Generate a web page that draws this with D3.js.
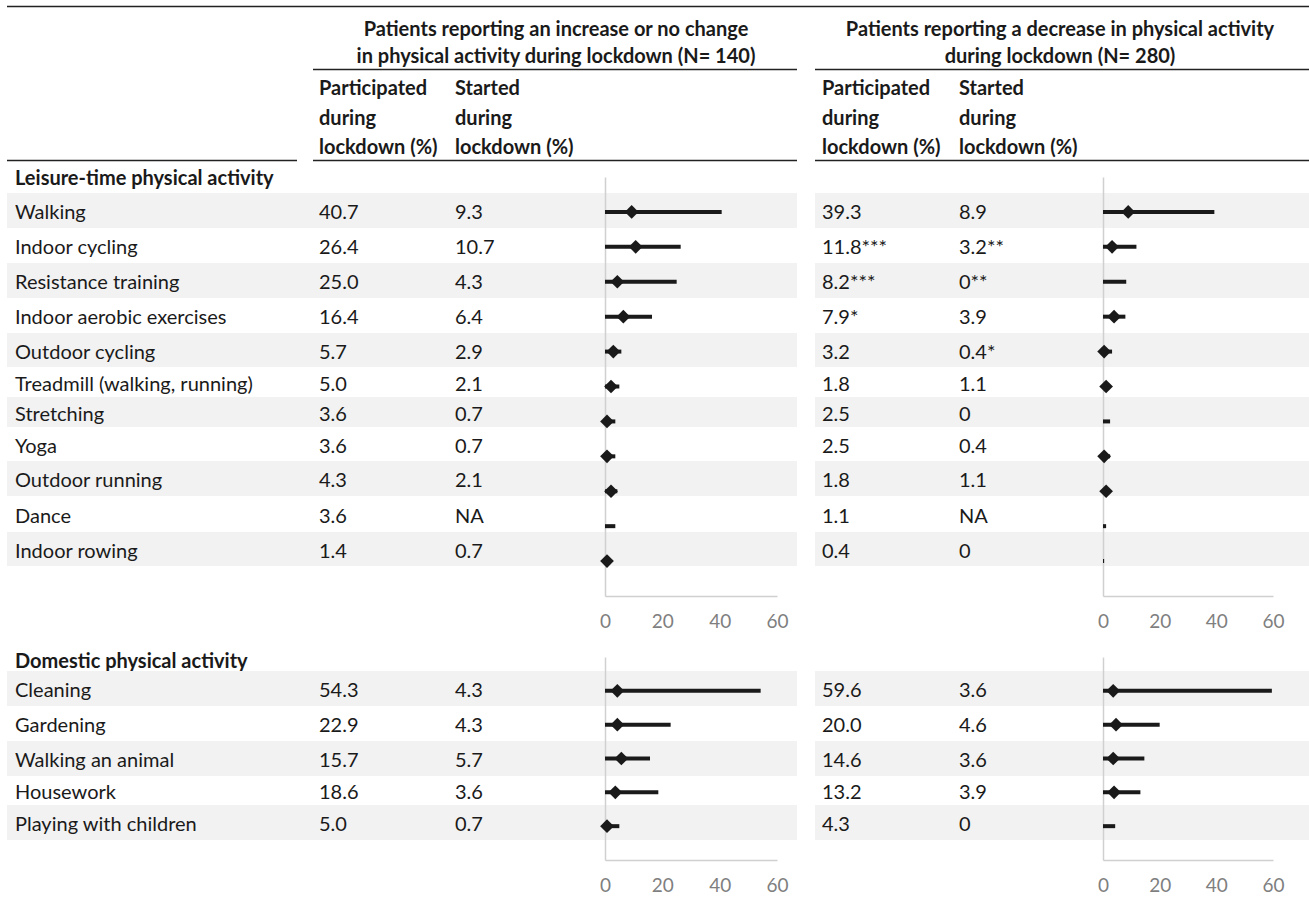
<!DOCTYPE html>
<html>
<head>
<meta charset="utf-8">
<script src="https://cdn.jsdelivr.net/npm/d3@7"></script>
<style>
  html, body { margin: 0; padding: 0; background: #ffffff; }
  svg { display: block; font-family: Lato, "Open Sans", sans-serif; }
</style>
</head>
<body>
<svg id="chart" width="1309" height="908"></svg>
<script>
// ---------------- DATA ----------------
const leisureCategories = ["Walking", "Indoor cycling", "Resistance training", "Indoor aerobic exercises",
  "Outdoor cycling", "Treadmill (walking, running)", "Stretching", "Yoga", "Outdoor running", "Dance", "Indoor rowing"];
// Increase / no change group (N=140)
const leisureIncParticipated = [40.7, 26.4, 25.0, 16.4, 5.7, 5.0, 3.6, 3.6, 4.3, 3.6, 1.4];
const leisureIncStarted      = [9.3, 10.7, 4.3, 6.4, 2.9, 2.1, 0.7, 0.7, 2.1, null, 0.7];
// Decrease group (N=280)
const leisureDecParticipated = [39.3, 11.8, 8.2, 7.9, 3.2, 1.8, 2.5, 2.5, 1.8, 1.1, 0.4];
const leisureDecParticipatedSig = ["", "***", "***", "*", "", "", "", "", "", "", ""];
const leisureDecStarted      = [8.9, 3.2, 0, 3.9, 0.4, 1.1, 0, 0.4, 1.1, null, 0];
const leisureDecStartedSig   = ["", "**", "**", "", "*", "", "", "", "", "", ""];

const domesticCategories = ["Cleaning", "Gardening", "Walking an animal", "Housework", "Playing with children"];
const domesticIncParticipated = [54.3, 22.9, 15.7, 18.6, 5.0];
const domesticIncStarted      = [4.3, 4.3, 5.7, 3.6, 0.7];
const domesticDecParticipated = [59.6, 20.0, 14.6, 13.2, 4.3];
const domesticDecStarted      = [3.6, 4.6, 3.6, 3.9, 0];

const xTicks = [0, 20, 40, 60];

const groupTitles = [
  ["Patients reporting an increase or no change", "in physical activity during lockdown (N= 140)"],
  ["Patients reporting a decrease in physical activity", "during lockdown (N= 280)"]
];
const colHeadParticipated = ["Participated", "during", "lockdown (%)"];
const colHeadStarted = ["Started", "during", "lockdown (%)"];
const sectionTitles = ["Leisure-time physical activity", "Domestic physical activity"];

// ---------------- LAYOUT ----------------
const FS = 20;
const TFS = 19;
const svg = d3.select("#chart");
const ink = "#1a1a1a";
const bandFill = "#f2f2f2";
const axisColor = "#d0d0d0";
const tickColor = "#7f7f7f";

const groups = [
  { x0: 313, x1: 797,  bandX0: 7,   colP: 319, colS: 455, plot: [605, 777], title: 556 },
  { x0: 815, x1: 1309, bandX0: 815, colP: 822, colS: 959, plot: [1103, 1273], title: 1060 }
];

const sections = [
  { title: sectionTitles[0], titleY: 178, cats: leisureCategories,
    edges: [193, 228, 263, 298, 333, 367, 397, 427, 461, 496, 532, 566],
    plotY: [177, 596],
    series: [
      { p: leisureIncParticipated, s: leisureIncStarted, pSig: null, sSig: null },
      { p: leisureDecParticipated, s: leisureDecStarted, pSig: leisureDecParticipatedSig, sSig: leisureDecStartedSig }
    ] },
  { title: sectionTitles[1], titleY: 661, cats: domesticCategories,
    edges: [671, 706, 741, 776, 805, 840],
    plotY: [657, 860],
    series: [
      { p: domesticIncParticipated, s: domesticIncStarted, pSig: null, sSig: null },
      { p: domesticDecParticipated, s: domesticDecStarted, pSig: null, sSig: null }
    ] }
];

const fmt = v => v === null ? "NA" : (v === 0 ? "0" : v.toFixed(1));

// ---------------- HEADER ----------------
const rule = (x1, x2, y) => svg.append("line").attr("x1", x1).attr("x2", x2).attr("y1", y).attr("y2", y)
  .attr("stroke", "#222").attr("stroke-width", 1.5);

rule(7, 1309, 6.5);
groups.forEach((g, gi) => {
  groupTitles[gi].forEach((t, li) => {
    svg.append("text").attr("x", g.title).attr("y", 36 + li * 27)
      .attr("text-anchor", "middle").attr("font-size", FS).attr("font-weight", 700).attr("fill", ink).text(t);
  });
  rule(g.x0, g.x1, 69.5);
  [[colHeadParticipated, g.colP], [colHeadStarted, g.colS]].forEach(([lines, x]) => {
    lines.forEach((t, li) => {
      svg.append("text").attr("x", x).attr("y", 95 + li * 29.5)
        .attr("font-size", FS).attr("font-weight", 700).attr("fill", ink).text(t);
    });
  });
  rule(g.x0, g.x1, 160.5);
});
rule(7, 297, 160.5);

// ---------------- SECTIONS ----------------
sections.forEach(sec => {
  svg.append("text").attr("x", 15).attr("y", sec.titleY + 7)
    .attr("font-size", FS).attr("font-weight", 700).attr("fill", ink).text(sec.title);

  // band rows
  sec.cats.forEach((c, i) => {
    if (i % 2 === 0) {
      groups.forEach(g => {
        svg.append("rect").attr("x", g.bandX0).attr("y", sec.edges[i])
          .attr("width", g.x1 - g.bandX0).attr("height", sec.edges[i + 1] - sec.edges[i])
          .attr("fill", bandFill);
      });
    }
  });

  // table text
  sec.cats.forEach((c, i) => {
    const cy = (sec.edges[i] + sec.edges[i + 1]) / 2 + 1.5;
    const by = cy + 7;
    svg.append("text").attr("x", 15).attr("y", by).attr("font-size", FS).attr("fill", ink).text(c);
    groups.forEach((g, gi) => {
      const ser = sec.series[gi];
      svg.append("text").attr("x", g.colP).attr("y", by).attr("font-size", FS).attr("fill", ink)
        .text(fmt(ser.p[i]) + (ser.pSig ? ser.pSig[i] : ""));
      svg.append("text").attr("x", g.colS).attr("y", by).attr("font-size", FS).attr("fill", ink)
        .text(fmt(ser.s[i]) + (ser.sSig ? ser.sSig[i] : ""));
    });
  });

  // plots
  groups.forEach((g, gi) => {
    const ser = sec.series[gi];
    const x = d3.scaleLinear().domain([0, 60]).range(g.plot);
    const y = d3.scalePoint().domain(sec.cats).range(sec.plotY).padding(1);

    const yAxis = svg.append("g").attr("transform", `translate(${g.plot[0]},0)`)
      .call(d3.axisLeft(y).tickSize(0).tickSizeOuter(0).tickFormat(""));
    yAxis.select(".domain").attr("stroke", axisColor).attr("stroke-width", 1.5);
    yAxis.selectAll(".tick").remove();

    const xAxis = svg.append("g").attr("transform", `translate(0,${sec.plotY[1]})`)
      .call(d3.axisBottom(x).tickValues(xTicks).tickSize(0).tickSizeOuter(0).tickPadding(19));
    xAxis.select(".domain").attr("stroke", axisColor).attr("stroke-width", 1.5);
    xAxis.selectAll(".tick text").attr("font-size", TFS).attr("fill", tickColor)
      .attr("font-family", "Lato, 'Open Sans', sans-serif");

    const rows = sec.cats.map((c, i) => ({ c, p: ser.p[i], s: ser.s[i] }));
    svg.append("g").selectAll("line").data(rows).join("line")
      .attr("x1", x(0)).attr("x2", d => x(d.p))
      .attr("y1", d => y(d.c)).attr("y2", d => y(d.c))
      .attr("stroke", ink).attr("stroke-width", 4);

    svg.append("g").selectAll("path").data(rows.filter(d => d.s !== null && d.s > 0)).join("path")
      .attr("transform", d => `translate(${x(d.s)},${y(d.c)})`)
      .attr("d", d3.symbol().type(d3.symbolDiamond2).size(120))
      .attr("fill", ink);
  });
});
</script>
</body>
</html>
